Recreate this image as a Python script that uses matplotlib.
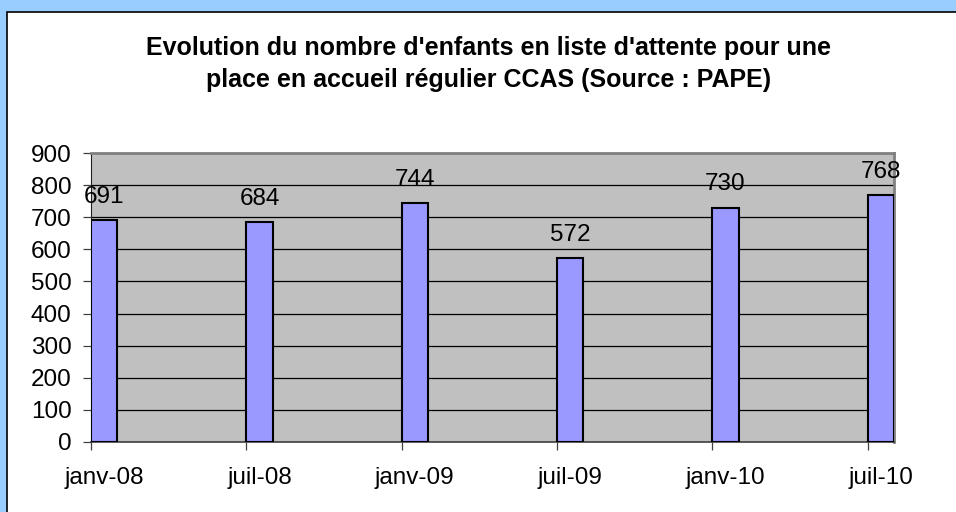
import matplotlib
matplotlib.use("Agg")
import matplotlib.pyplot as plt
from matplotlib.patches import Rectangle
from matplotlib.ticker import MultipleLocator, FixedLocator, NullFormatter

plt.rcParams['font.family'] = ['Liberation Sans', 'DejaVu Sans']

# data
periodes = ['janv-08', 'juil-08', 'janv-09', 'juil-09', 'janv-10', 'juil-10']
enfants = [691, 684, 744, 572, 730, 768]
titre = "Evolution du nombre d'enfants en liste d'attente pour une\nplace en accueil régulier CCAS (Source : PAPE)"

W, H = 956, 512
fig = plt.figure(figsize=(W / 100, H / 100), dpi=100, facecolor='#99CCFF')

# white panel with black border (top/left visible)
fig.patches.append(Rectangle((7 / W, -0.05), 1.2, 1 - 12 / H + 0.05,
                             transform=fig.transFigure, facecolor='white',
                             edgecolor='black', linewidth=1.2, zorder=-5))

ax = fig.add_axes([91 / W, 1 - 442 / H, (894 - 91) / W, (442 - 153) / H])
ax.set_facecolor('#C0C0C0')

w = 0.17
x = list(range(len(periodes)))
ax.bar(x, enfants, width=w, align='edge', color='#9999FF',
       edgecolor='black', linewidth=1.5, zorder=3)

for xi, v in zip(x, enfants):
    ax.annotate(str(v), (xi + w / 2, v), xytext=(0, 9), textcoords='offset points',
                ha='center', va='bottom', fontsize=17.5, annotation_clip=False,
                zorder=4)

ax.set_xlim(0, len(periodes) - 1 + w)
ax.set_ylim(0, 900)
ax.yaxis.set_major_locator(MultipleLocator(100))
ax.grid(axis='y', color='black', linewidth=0.9, zorder=1)
ax.set_axisbelow(True)

# ticks on category edges, labels at bar centers
ax.set_xticks([xi + w / 2 for xi in x])
ax.set_xticklabels(periodes)
ax.xaxis.set_minor_locator(FixedLocator(x))
ax.xaxis.set_minor_formatter(NullFormatter())
ax.tick_params(axis='x', which='major', length=0, pad=18, labelsize=17.5)
ax.tick_params(axis='x', which='minor', length=6, color='#404040', width=0.9)
ax.tick_params(axis='y', length=6, pad=8, labelsize=17.5, color='#404040', width=0.9)

for s in ['top', 'right']:
    ax.spines[s].set_color('#808080')
    ax.spines[s].set_linewidth(2)
ax.spines['left'].set_color('#202020')
ax.spines['bottom'].set_color('#404040')
ax.spines['bottom'].set_linewidth(1.2)

fig.text(489 / W, 1 - 64 / H, titre, ha='center', va='center', fontsize=18,
         fontweight='bold', linespacing=1.4)

fig.savefig('out.png', dpi=100, facecolor=fig.get_facecolor())
